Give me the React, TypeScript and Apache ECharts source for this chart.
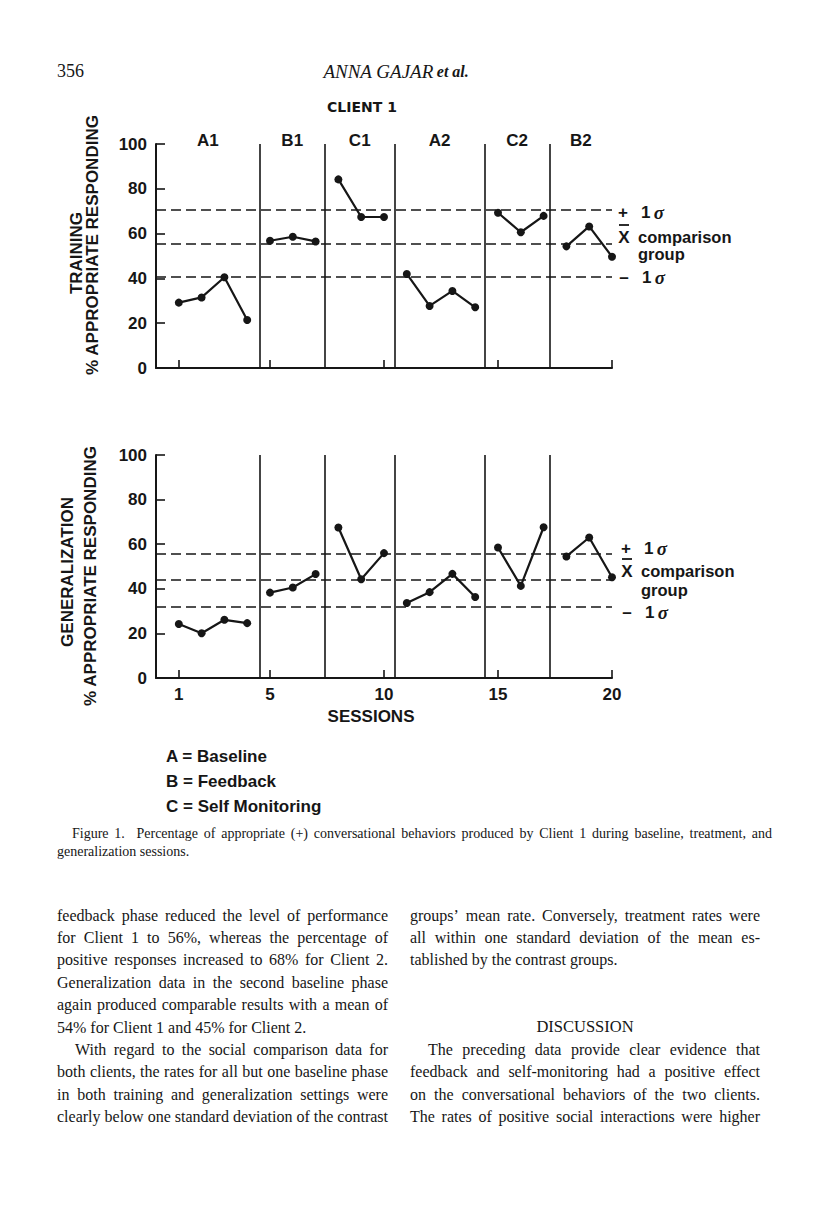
import React, { useEffect, useRef } from "react";
import * as echarts from "echarts";

// ---------- data ----------
const sessions = [1, 2, 3, 4, 5, 6, 7, 8, 9, 10, 11, 12, 13, 14, 15, 16, 17, 18, 19, 20];
const phaseNames = ["A1", "B1", "C1", "A2", "C2", "B2"];
const phaseFirstSession = [1, 5, 8, 11, 15, 18];
const phaseLastSession = [4, 7, 10, 14, 17, 20];
const phaseDividers = [4.55, 7.4, 10.47, 14.4, 17.27];
const trainingValues = [29.2, 31.5, 40.5, 21.4, 56.8, 58.6, 56.5, 84.2, 67.4, 67.4, 42, 27.7, 34.4, 27.1, 69.3, 60.6, 67.9, 54.3, 63.2, 49.7];
const generalizationValues = [24.2, 20.1, 26.1, 24.6, 38.3, 40.6, 46.6, 67.5, 44.3, 56, 33.6, 38.5, 46.7, 36.3, 58.5, 41.3, 67.6, 54.5, 63, 45.2];
// +1 sd, comparison mean, -1 sd
const trainingBands = [70.5, 55.4, 40.9];
const generalizationBands = [55.7, 44, 31.8];
const yTickValues = [0, 20, 40, 60, 80, 100];
const xTickValues = [1, 5, 10, 15, 20];
const legendLines = ["A = Baseline", "B = Feedback", "C = Self Monitoring"];

const captionLines = [
  "Figure 1.  Percentage of appropriate (+) conversational behaviors produced by Client 1 during baseline, treatment, and",
  "generalization sessions.",
];
const leftColumn = [
  "feedback phase reduced the level of performance",
  "for Client 1 to 56%, whereas the percentage of",
  "positive responses increased to 68% for Client 2.",
  "Generalization data in the second baseline phase",
  "again produced comparable results with a mean of",
  "54% for Client 1 and 45% for Client 2.",
  "With regard to the social comparison data for",
  "both clients, the rates for all but one baseline phase",
  "in both training and generalization settings were",
  "clearly below one standard deviation of the contrast",
];
const leftJustify = [true, true, true, true, true, false, true, true, true, true];
const leftIndent = [false, false, false, false, false, false, true, false, false, false];
const rightColumn = [
  "groups\u2019 mean rate. Conversely, treatment rates were",
  "all within one standard deviation of the mean es-",
  "tablished by the contrast groups.",
  "",
  "",
  "",
  "The preceding data provide clear evidence that",
  "feedback and self-monitoring had a positive effect",
  "on the conversational behaviors of the two clients.",
  "The rates of positive social interactions were higher",
];
const rightJustify = [true, true, false, false, false, false, true, true, true, true];
const rightIndent = [false, false, false, false, false, false, true, false, false, false];

// ---------- styles ----------
const SANS = '"Liberation Sans", Arial, Helvetica, sans-serif';
const SERIF = '"Liberation Serif", "Times New Roman", serif';
const INK = "#161616";

function buildSeries(values: number[], gridIdx: number, bands: number[]) {
  return phaseNames.map((name, i) => {
    const from = phaseFirstSession[i];
    const to = phaseLastSession[i];
    const data = sessions.slice(from - 1, to).map((s) => [s, values[s - 1]]);
    const s: any = {
      type: "line",
      name: name + "-" + gridIdx,
      xAxisIndex: gridIdx,
      yAxisIndex: gridIdx,
      data,
      symbol: "circle",
      symbolSize: 8,
      showSymbol: true,
      lineStyle: { color: INK, width: 2.2 },
      itemStyle: { color: INK },
      silent: true,
      z: 5,
    };
    if (i === 0) {
      s.markLine = {
        silent: true,
        symbol: ["none", "none"],
        label: { show: false },
        animation: false,
        data: [
          ...phaseDividers.map((v) => ({ xAxis: v, lineStyle: { type: "solid", width: 1.6, color: INK } })),
          ...bands.map((v) => ({ yAxis: v, lineStyle: { type: [10, 5], width: 1.6, color: INK } })),
        ],
      };
    }
    return s;
  });
}

function xAxisDef(gridIndex: number, showLabels: boolean) {
  return {
    type: "value",
    gridIndex,
    min: 0,
    max: 20,
    axisLine: { show: true, lineStyle: { color: INK, width: 2 } },
    axisTick: { show: true, inside: true, length: 8, customValues: xTickValues, lineStyle: { color: INK, width: 1.6 } },
    axisLabel: {
      show: showLabels,
      customValues: xTickValues,
      color: INK,
      fontFamily: SANS,
      fontWeight: "bold",
      fontSize: 17,
      margin: 8,
    },
    splitLine: { show: false },
  };
}

function yAxisDef(gridIndex: number) {
  return {
    type: "value",
    gridIndex,
    min: 0,
    max: 100,
    interval: 20,
    axisLine: { show: true, lineStyle: { color: INK, width: 2 } },
    axisTick: { show: true, inside: true, length: 9, lineStyle: { color: INK, width: 1.6 } },
    axisLabel: {
      color: INK,
      fontFamily: SANS,
      fontWeight: "bold",
      fontSize: 17,
      margin: 9,
      customValues: yTickValues,
    },
    splitLine: { show: false },
  };
}

function measureCtx() {
  const c = document.createElement("canvas");
  return c.getContext("2d") as CanvasRenderingContext2D;
}

function textLine(
  ctx: CanvasRenderingContext2D,
  text: string,
  x0: number,
  x1: number,
  y: number,
  size: number,
  justify: boolean
) {
  const out: any[] = [];
  if (!text) return out;
  const font = `${size}px ${SERIF}`;
  if (!justify) {
    out.push({
      type: "text",
      x: x0,
      y,
      style: { text, font, fill: INK, align: "left", verticalAlign: "middle" },
    });
    return out;
  }
  ctx.font = font;
  const words = text.split(" ");
  const widths = words.map((w) => ctx.measureText(w).width);
  const total = widths.reduce((a, b) => a + b, 0);
  const gap = words.length > 1 ? (x1 - x0 - total) / (words.length - 1) : 0;
  let cx = x0;
  words.forEach((w, i) => {
    out.push({
      type: "text",
      x: cx,
      y,
      style: { text: w, font, fill: INK, align: "left", verticalAlign: "middle" },
    });
    cx += widths[i] + gap;
  });
  return out;
}

function boldText(text: string, x: number, y: number, size: number, align = "left", rotation = 0, family = SANS) {
  return {
    type: "text",
    x,
    y,
    rotation,
    style: {
      text,
      fontFamily: family,
      fontWeight: "bold",
      fontSize: size,
      fill: INK,
      align,
      verticalAlign: "middle",
    },
  };
}

function sigmaText(sign: string, x: number, y: number) {
  return [
    boldText(sign, x, y, 17, "center"),
    {
      type: "text",
      x: x + 18,
      y,
      style: {
        text: "{n|1} {s|\u03c3}",
        verticalAlign: "middle",
        align: "left",
        rich: {
          n: { fontFamily: SANS, fontWeight: "bold", fontSize: 17, fill: INK },
          s: { fontFamily: SERIF, fontStyle: "italic", fontWeight: "bold", fontSize: 19, fill: INK },
        },
      },
    },
  ];
}

function comparisonLabels(yPlus: number, yX: number, yGroup: number, yMinus: number, dx: number) {
  return [
    ...sigmaText("+", 623 + dx, yPlus),
    boldText("X", 624 + dx, yX, 17, "center"),
    { type: "line", shape: { x1: 619 + dx, y1: yX - 12, x2: 629 + dx, y2: yX - 12 }, style: { stroke: INK, lineWidth: 1.8 } },
    boldText("comparison", 638 + dx, yX, 16.5, "left"),
    boldText("group", 638 + dx, yGroup, 16.5, "left"),
    ...sigmaText("\u2013", 624 + dx, yMinus),
  ];
}

export default function App() {
  const ref = useRef<HTMLDivElement>(null);

  useEffect(() => {
    const el = ref.current as HTMLDivElement;
    const chart = echarts.init(el, null, { renderer: "svg", width: 816, height: 1205 });

    const option: any = {
      animation: false,
      backgroundColor: "#ffffff",
      grid: [
        { left: 156, top: 144, width: 456, height: 224 },
        { left: 156, top: 455, width: 456, height: 223 },
      ],
      xAxis: [xAxisDef(0, false), xAxisDef(1, true)],
      yAxis: [yAxisDef(0), yAxisDef(1)],
      series: [
        ...buildSeries(trainingValues, 0, trainingBands),
        ...buildSeries(generalizationValues, 1, generalizationBands),
      ],
    };
    chart.setOption(option);

    // phase labels positioned through the chart's own scale
    const bounds = [0, ...phaseDividers, 20];
    const phaseLabelEls = phaseNames.map((name, i) => {
      const cx = (bounds[i] + bounds[i + 1]) / 2;
      const p = chart.convertToPixel({ gridIndex: 0 }, [cx, 100]) as number[];
      return boldText(name, p[0], p[1] - 4, 17, "center");
    });

    const ctx = measureCtx();
    const bodyEls: any[] = [];
    const lineY0 = 915;
    const pitch = 22.4;
    const L0 = 57;
    const L1 = 388;
    const R0 = 410;
    const R1 = 760;
    leftColumn.forEach((t, i) => {
      const x0 = leftIndent[i] ? L0 + 18 : L0;
      bodyEls.push(...textLine(ctx, t, x0, L1, lineY0 + i * pitch, 16, leftJustify[i]));
    });
    rightColumn.forEach((t, i) => {
      const x0 = rightIndent[i] ? R0 + 18 : R0;
      bodyEls.push(...textLine(ctx, t, x0, R1, lineY0 + i * pitch, 16, rightJustify[i]));
    });
    bodyEls.push({
      type: "text",
      x: (R0 + R1) / 2,
      y: 1026,
      style: { text: "DISCUSSION", font: `16.5px ${SERIF}`, fill: INK, align: "center", verticalAlign: "middle" },
    });
    bodyEls.push(...textLine(ctx, captionLines[0], 72, 772, 833, 14, true));
    bodyEls.push(...textLine(ctx, captionLines[1], L0, 772, 851, 14, false));

    const graphic: any[] = [
      // page header
      {
        type: "text",
        x: L0,
        y: 71,
        style: { text: "356", font: `18px ${SERIF}`, fill: INK, align: "left", verticalAlign: "middle" },
      },
      {
        type: "text",
        x: 396,
        y: 71,
        style: {
          text: "{a|ANNA GAJAR} {b|et al.}",
          align: "center",
          verticalAlign: "middle",
          rich: {
            a: { fontFamily: SERIF, fontStyle: "italic", fontSize: 19, fill: INK },
            b: { fontFamily: SERIF, fontStyle: "italic", fontWeight: "bold", fontSize: 16, fill: INK },
          },
        },
      },
      boldText("CLIENT 1", 362, 107, 14, "center", 0, '"DejaVu Sans", ' + SANS),
      ...phaseLabelEls,
      // y-axis titles
      boldText("TRAINING", 76.5, 253, 17, "center", Math.PI / 2),
      boldText("% APPROPRIATE RESPONDING", 92.5, 245, 17, "center", Math.PI / 2),
      boldText("GENERALIZATION", 67.5, 572, 17, "center", Math.PI / 2),
      boldText("% APPROPRIATE RESPONDING", 90.5, 576, 17, "center", Math.PI / 2),
      boldText("SESSIONS", 371, 716, 17, "center"),
      ...comparisonLabels(212, 237, 254, 277, 0),
      ...comparisonLabels(548, 571, 590, 612, 3),
      ...legendLines.map((t, i) => boldText(t, 166, 756 + i * 25, 17, "left")),
      ...bodyEls,
    ];
    chart.setOption({ graphic });

    return () => chart.dispose();
  }, []);

  return (
    <div
      ref={ref}
      style={{ position: "absolute", left: 0, top: 0, width: 816, height: 1205, background: "#fff" }}
    />
  );
}
